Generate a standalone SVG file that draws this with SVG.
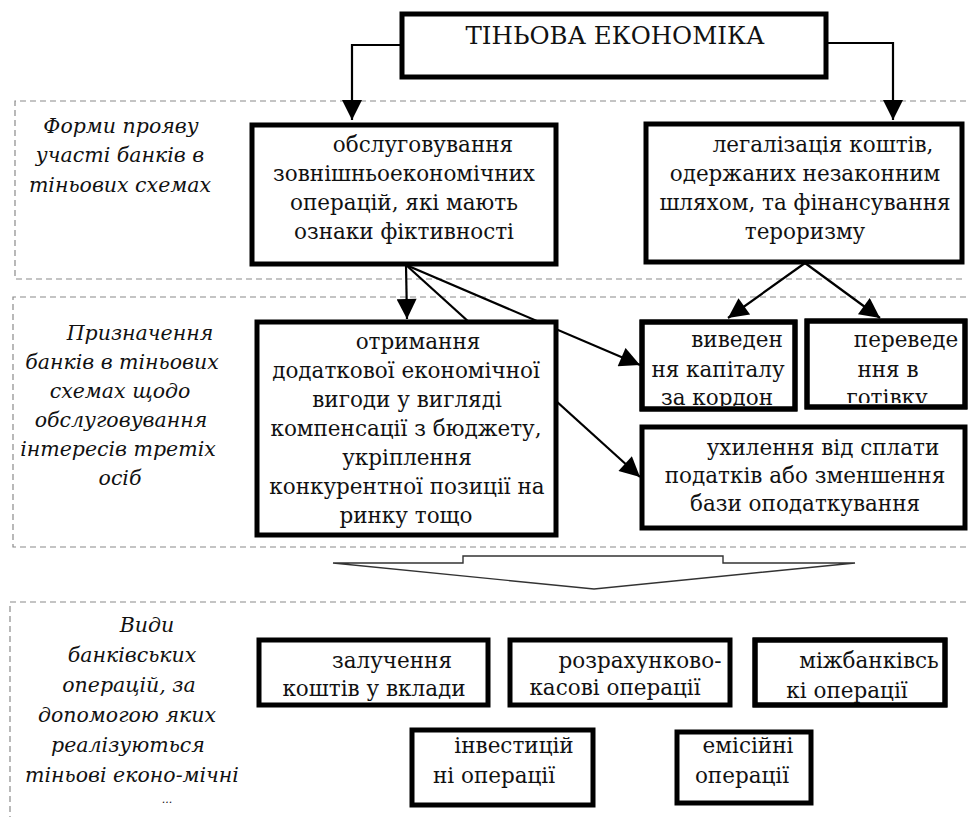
<svg xmlns="http://www.w3.org/2000/svg" width="969" height="817" viewBox="0 0 969 817" font-family="'DejaVu Serif', 'Liberation Serif', serif">
<defs>
<marker id="ah2" viewBox="0 0 10 10" refX="10" refY="5" markerWidth="22" markerHeight="20" orient="auto" markerUnits="userSpaceOnUse">
<path d="M0,0 L10,5 L0,10 z" fill="#000"/>
</marker>
<clipPath id="c1"><rect x="640" y="320" width="157" height="86"/></clipPath>
<clipPath id="c2"><rect x="805" y="319" width="162" height="84"/></clipPath>
<clipPath id="c3"><rect x="753" y="638" width="194" height="65"/></clipPath>
</defs>
<style>
.reg{fill:none;stroke:#8a8a8a;stroke-width:1.2;stroke-dasharray:6,4}
.box{fill:#fff;stroke:#000;stroke-width:5}
.t{font-family:"DejaVu Serif","Liberation Serif",serif;font-size:21.5px;fill:#111;text-anchor:middle}
.i{font-family:"DejaVu Serif","Liberation Serif",serif;font-size:20.5px;font-style:italic;fill:#111;text-anchor:middle}
.ln{fill:none;stroke:#000;stroke-width:2.2}
</style>
<rect width="969" height="817" fill="#fff"/>

<g id="regions">
<path class="reg" d="M966,101 H15 V279 H966"/>
<path class="reg" d="M966,297 H13 V547 H966"/>
<path class="reg" d="M966,602 H10 V817"/>
</g>

<g id="connectors">
<path class="ln" d="M400,45 H352 V120" marker-end="url(#ah2)"/>
<path class="ln" d="M828,43 H893 V120" marker-end="url(#ah2)"/>
<path class="ln" d="M406,265 L407,319" marker-end="url(#ah2)"/>
<path class="ln" d="M406,265 L640,477" marker-end="url(#ah2)"/>
<path class="ln" d="M406,265 L640,365" marker-end="url(#ah2)"/>
<path class="ln" d="M805,263 L728,318" marker-end="url(#ah2)"/>
<path class="ln" d="M805,263 L880,318" marker-end="url(#ah2)"/>
<path d="M333,563 H463 V556 H723 V563 H855 L594,589 Z" fill="#fff" stroke="#333" stroke-width="1.4" stroke-linejoin="miter"/>
</g>

<g id="label1">
<text class="i" x="121" y="133">Форми прояву</text>
<text class="i" x="120" y="162">участі банків в</text>
<text class="i" x="120" y="192">тіньових схемах</text>
</g>
<g id="label2">
<text class="i" x="140" y="340">Призначення</text>
<text class="i" x="122" y="369">банків в тіньових</text>
<text class="i" x="120" y="398">схемах щодо</text>
<text class="i" x="121" y="427">обслуговування</text>
<text class="i" x="118" y="456">інтересів третіх</text>
<text class="i" x="120" y="485">осіб</text>
</g>
<g id="label3">
<text class="i" x="147" y="632">Види</text>
<text class="i" x="132" y="662">банківських</text>
<text class="i" x="129" y="692">операцій, за</text>
<text class="i" x="127" y="722">допомогою яких</text>
<text class="i" x="128" y="752">реалізуються</text>
<text class="i" x="132" y="782">тіньові еконо-мічні</text>
<text class="i" x="167" y="803" style="font-size:11px">...</text>
</g>

<g id="title">
<rect class="box" x="402" y="14" width="424" height="63" stroke-width="4.5"/>
<text class="t" x="615" y="44" style="font-size:24.5px">ТІНЬОВА ЕКОНОМІКА</text>
</g>

<g id="n-obsl">
<rect class="box" x="252" y="125" width="304" height="139"/>
<text class="t" x="423" y="152">обслуговування</text>
<text class="t" x="404" y="181">зовнішньоекономічних</text>
<text class="t" x="404" y="210">операцій, які мають</text>
<text class="t" x="404" y="239">ознаки фіктивності</text>
</g>

<g id="n-leg">
<rect class="box" x="646" y="124" width="316" height="138"/>
<text class="t" x="823" y="152">легалізація коштів,</text>
<text class="t" x="805" y="181">одержаних незаконним</text>
<text class="t" x="805" y="210">шляхом, та фінансування</text>
<text class="t" x="805" y="239">тероризму</text>
</g>

<g id="n-otr">
<rect class="box" x="257" y="322" width="299" height="213"/>
<text class="t" x="418" y="349">отримання</text>
<text class="t" x="406" y="378">додаткової економічної</text>
<text class="t" x="407" y="407">вигоди у вигляді</text>
<text class="t" x="406" y="436">компенсації з бюджету,</text>
<text class="t" x="407" y="465">укріплення</text>
<text class="t" x="407" y="494">конкурентної позиції на</text>
<text class="t" x="406" y="523">ринку тощо</text>
</g>

<g id="n-vyv">
<rect class="box" x="642" y="322" width="153" height="87"/>
<g clip-path="url(#c1)">
<text class="t" x="737" y="347">виведен</text>
<text class="t" x="718" y="377">ня капіталу</text>
<text class="t" x="717" y="405">за кордон</text>
</g>
<rect x="642" y="322" width="153" height="87" fill="none" stroke="#000" stroke-width="5"/>
</g>

<g id="n-per">
<rect class="box" x="807" y="321" width="158" height="86"/>
<g clip-path="url(#c2)">
<text class="t" x="906" y="347">переведе</text>
<text class="t" x="888" y="377">ння в</text>
<text class="t" x="887" y="405">готівку</text>
</g>
<rect x="807" y="321" width="158" height="86" fill="none" stroke="#000" stroke-width="5"/>
</g>

<g id="n-uhyl">
<rect class="box" x="642" y="427" width="323" height="101"/>
<text class="t" x="823" y="455">ухилення від сплати</text>
<text class="t" x="805" y="483">податків або зменшення</text>
<text class="t" x="805" y="511">бази оподаткування</text>
</g>

<g id="n-zal">
<rect class="box" x="259" y="640" width="229" height="65"/>
<text class="t" x="392" y="668">залучення</text>
<text class="t" x="374" y="696">коштів у вклади</text>
</g>

<g id="n-rozr">
<rect class="box" x="510" y="640" width="220" height="65"/>
<text class="t" x="640" y="668">розрахунково-</text>
<text class="t" x="615" y="695">касові операції</text>
</g>

<g id="n-mizh">
<rect class="box" x="755" y="640" width="190" height="65"/>
<g clip-path="url(#c3)">
<text class="t" x="869" y="668">міжбанківсь</text>
<text class="t" x="847" y="698">кі операції</text>
</g>
<rect x="755" y="640" width="190" height="65" fill="none" stroke="#000" stroke-width="5"/>
</g>

<g id="n-inv">
<rect class="box" x="412" y="730" width="181" height="75"/>
<text class="t" x="514" y="753">інвестицій</text>
<text class="t" x="494" y="783">ні операції</text>
</g>

<g id="n-emis">
<rect class="box" x="677" y="732" width="134" height="71"/>
<text class="t" x="748" y="753">емісійні</text>
<text class="t" x="742" y="783">операції</text>
</g>
</svg>
